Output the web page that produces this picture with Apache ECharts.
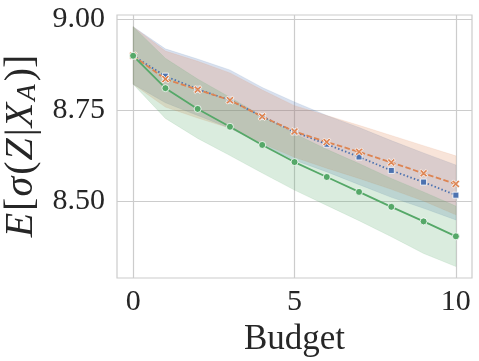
<!DOCTYPE html>
<html>
<head>
<meta charset="utf-8">
<script src="https://cdn.jsdelivr.net/npm/echarts@6/dist/echarts.min.js"></script>
<style>
  html, body {margin: 0; padding: 0; background: #fff;}
  #chart {width: 479px; height: 361px;}
</style>
</head>
<body>
<div id="chart"></div>
<script>
var budget = [0, 1, 2, 3, 4, 5, 6, 7, 8, 9, 10];
var xTicks = [0, 5, 10];
var yTicks = [8.5, 8.75, 9.0];

var blueMean  = [8.899, 8.843, 8.807, 8.777, 8.732, 8.690, 8.656, 8.621, 8.584, 8.552, 8.516];
var blueUpper = [8.979, 8.918, 8.890, 8.860, 8.812, 8.772, 8.735, 8.702, 8.666, 8.632, 8.599];
var blueLower = [8.821, 8.770, 8.735, 8.700, 8.655, 8.612, 8.580, 8.545, 8.510, 8.480, 8.448];

var orangeMean  = [8.899, 8.835, 8.806, 8.777, 8.732, 8.691, 8.662, 8.635, 8.606, 8.576, 8.547];
var orangeUpper = [8.979, 8.912, 8.884, 8.852, 8.805, 8.762, 8.735, 8.708, 8.680, 8.652, 8.624];
var orangeLower = [8.821, 8.758, 8.728, 8.700, 8.658, 8.620, 8.590, 8.562, 8.532, 8.500, 8.462];

var greenMean  = [8.899, 8.810, 8.753, 8.704, 8.654, 8.607, 8.566, 8.525, 8.484, 8.444, 8.403];
var greenUpper = [8.979, 8.892, 8.835, 8.785, 8.733, 8.685, 8.642, 8.603, 8.562, 8.525, 8.486];
var greenLower = [8.821, 8.727, 8.672, 8.625, 8.577, 8.530, 8.488, 8.446, 8.402, 8.356, 8.320];

var xMark = 'path://M2,0 L5,3 L8,0 L10,2 L7,5 L10,8 L8,10 L5,7 L2,10 L0,8 L3,5 L0,2 Z';
var font = '"Liberation Serif", "DejaVu Serif", serif';

function pairs(vals) {
  return budget.map(function (b, i) { return [b, vals[i]]; });
}

// confidence band as one polygon, drawn through the axis scales
function band(name, lower, upper, color) {
  var rows = budget.map(function (b, i) { return [b, lower[i], upper[i]]; });
  return {
    name: name + '-band', type: 'custom', silent: true, z: 1,
    data: rows,
    encode: {x: 0, y: [1, 2]},
    renderItem: function (params, api) {
      if (params.dataIndex !== 0) return;
      var pts = [];
      rows.forEach(function (r) { pts.push(api.coord([r[0], r[2]])); });
      rows.slice().reverse().forEach(function (r) { pts.push(api.coord([r[0], r[1]])); });
      return {
        type: 'polygon',
        shape: {points: pts},
        style: {fill: color, opacity: 0.22, stroke: color, lineWidth: 0.5}
      };
    }
  };
}

function meanLine(name, vals, color, type, symbol, size) {
  return {
    name: name, type: 'line', data: pairs(vals), z: 3,
    symbol: symbol, symbolSize: size, showAllSymbol: true,
    lineStyle: {color: color, width: 1.8, type: type},
    itemStyle: {color: color, borderColor: '#fff', borderWidth: 0.8}
  };
}

var chart = echarts.init(document.getElementById('chart'));
var option = {
  animation: false,
  grid: {
    left: 117, right: 7, top: 15, bottom: 83, outerBoundsMode: 'none',
    show: true, borderColor: '#cccccc', borderWidth: 1.2
  },
  xAxis: {
    type: 'value', min: -0.5, max: 10.5,
    name: 'Budget', nameLocation: 'middle', nameGap: 36,
    nameTextStyle: {fontFamily: font, fontSize: 35, color: '#262626'},
    axisLine: {show: false},
    axisTick: {show: false, customValues: xTicks},
    axisLabel: {customValues: xTicks, fontFamily: font, fontSize: 30, color: '#262626', margin: 9},
    splitLine: {show: true, lineStyle: {color: '#cccccc', width: 1.2}}
  },
  yAxis: {
    type: 'value', min: 8.2885, max: 9.011,
    name: '{i|E}[{i|σ}({i|Z}|{i|X}{s|A})]',
    nameLocation: 'middle', nameRotate: 90, nameGap: 64,
    nameTextStyle: {
      fontFamily: font, fontSize: 40, color: '#262626',
      rich: {
        i: {fontFamily: font, fontSize: 40, fontStyle: 'italic', color: '#262626', padding: [0, 2, 0, 1]},
        s: {fontFamily: font, fontSize: 27, fontStyle: 'italic', color: '#262626', verticalAlign: 'bottom', padding: [0, 3, 0, 0]}
      }
    },
    axisLine: {show: false},
    axisTick: {show: false, customValues: yTicks},
    axisLabel: {
      customValues: yTicks, fontFamily: font, fontSize: 30, color: '#262626', margin: 12,
      formatter: function (v) { return v.toFixed(2); }
    },
    splitLine: {show: true, lineStyle: {color: '#cccccc', width: 1.2}}
  },
  series: [
    band('blue', blueLower, blueUpper, '#4c72b0'),
    band('orange', orangeLower, orangeUpper, '#dd8452'),
    band('green', greenLower, greenUpper, '#55a868'),
    meanLine('blue', blueMean, '#4c72b0', [1.5, 2.2], 'rect', 6),
    meanLine('orange', orangeMean, '#dd8452', [5.5, 2.5], xMark, 8),
    meanLine('green', greenMean, '#55a868', 'solid', 'circle', 7)
  ]
};
chart.setOption(option);
</script>
</body>
</html>
